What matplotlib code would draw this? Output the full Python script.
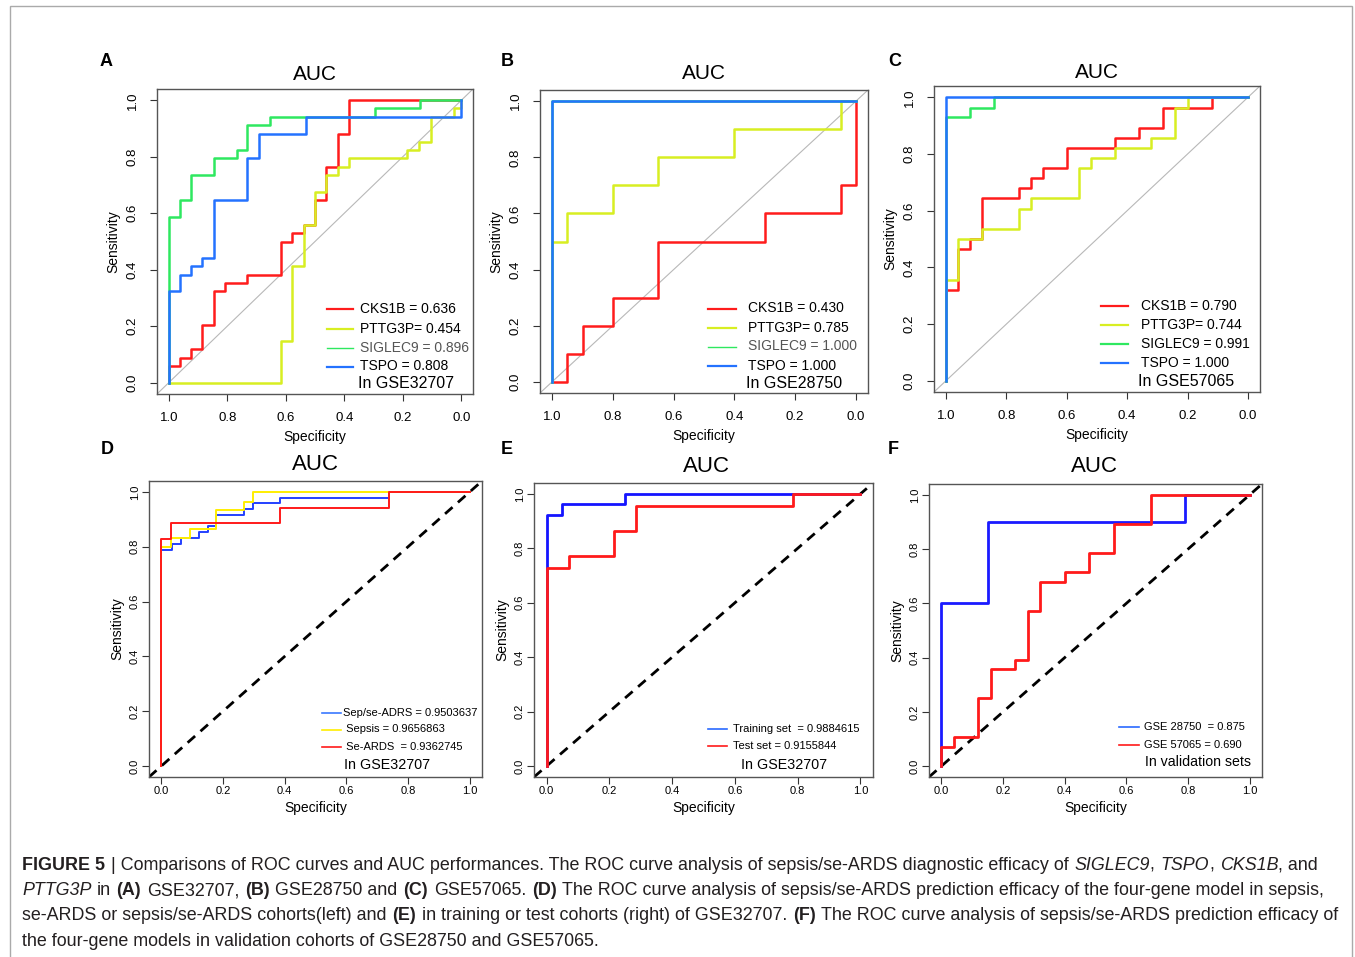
import re
import matplotlib
matplotlib.use('Agg')
import matplotlib.pyplot as plt
from matplotlib import font_manager
from matplotlib.lines import Line2D
from matplotlib.patches import Rectangle

W, H = 1355, 957

installed = {f.name for f in font_manager.fontManager.ttflist}
SANS = 'Liberation Sans' if 'Liberation Sans' in installed else 'DejaVu Sans'
NARROW = 'Liberation Sans Narrow' if 'Liberation Sans Narrow' in installed else SANS
plt.rcParams['font.family'] = [SANS, 'DejaVu Sans']

# ---- panel A : GSE32707 (specificity, sensitivity)
a_cks1b_spec = [1.0, 1.0, 0.962, 0.962, 0.923, 0.923, 0.885, 0.885, 0.846, 0.846, 0.808, 0.808, 0.731, 0.731,
                0.615, 0.615, 0.577, 0.577, 0.538, 0.538, 0.5, 0.5, 0.462, 0.462, 0.423, 0.423, 0.385, 0.385, 0.0]
a_cks1b_sens = [0.0, 0.059, 0.059, 0.088, 0.088, 0.118, 0.118, 0.206, 0.206, 0.324, 0.324, 0.353, 0.353, 0.382,
                0.382, 0.5, 0.5, 0.529, 0.529, 0.559, 0.559, 0.647, 0.647, 0.765, 0.765, 0.882, 0.882, 1.0, 1.0]
a_pttg3p_spec = [1.0, 0.615, 0.615, 0.577, 0.577, 0.538, 0.538, 0.5, 0.5, 0.462, 0.462, 0.423, 0.423, 0.385,
                 0.385, 0.185, 0.185, 0.145, 0.145, 0.105, 0.105, 0.025, 0.025, 0.0, 0.0]
a_pttg3p_sens = [0.0, 0.0, 0.147, 0.147, 0.412, 0.412, 0.559, 0.559, 0.676, 0.676, 0.735, 0.735, 0.765, 0.765,
                 0.794, 0.794, 0.824, 0.824, 0.853, 0.853, 0.941, 0.941, 0.971, 0.971, 1.0]
a_siglec9_spec = [1.0, 1.0, 0.962, 0.962, 0.923, 0.923, 0.846, 0.846, 0.765, 0.765, 0.731, 0.731, 0.654, 0.654,
                  0.296, 0.296, 0.142, 0.142, 0.0]
a_siglec9_sens = [0.0, 0.588, 0.588, 0.647, 0.647, 0.735, 0.735, 0.794, 0.794, 0.824, 0.824, 0.912, 0.912, 0.941,
                  0.941, 0.971, 0.971, 1.0, 1.0]
a_tspo_spec = [1.0, 1.0, 0.962, 0.962, 0.923, 0.923, 0.885, 0.885, 0.846, 0.846, 0.731, 0.731, 0.692, 0.692,
               0.532, 0.532, 0.0, 0.0]
a_tspo_sens = [0.0, 0.324, 0.324, 0.382, 0.382, 0.412, 0.412, 0.441, 0.441, 0.647, 0.647, 0.794, 0.794, 0.882,
               0.882, 0.941, 0.941, 1.0]
a_labels = ['CKS1B = 0.636', 'PTTG3P= 0.454', 'SIGLEC9 = 0.896', 'TSPO = 0.808']

# ---- panel B : GSE28750
b_cks1b_spec = [1.0, 0.95, 0.95, 0.9, 0.9, 0.8, 0.8, 0.65, 0.65, 0.3, 0.3, 0.05, 0.05, 0.0, 0.0]
b_cks1b_sens = [0.0, 0.0, 0.1, 0.1, 0.2, 0.2, 0.3, 0.3, 0.5, 0.5, 0.6, 0.6, 0.7, 0.7, 1.0]
b_pttg3p_spec = [1.0, 1.0, 0.95, 0.95, 0.8, 0.8, 0.65, 0.65, 0.4, 0.4, 0.05, 0.05, 0.0]
b_pttg3p_sens = [0.0, 0.5, 0.5, 0.6, 0.6, 0.7, 0.7, 0.8, 0.8, 0.9, 0.9, 1.0, 1.0]
b_siglec9_spec = [1.0, 1.0, 0.0]
b_siglec9_sens = [0.0, 1.0, 1.0]
b_tspo_spec = [1.0, 1.0, 0.0]
b_tspo_sens = [0.0, 1.0, 1.0]
b_labels = ['CKS1B = 0.430', 'PTTG3P= 0.785', 'SIGLEC9 = 1.000', 'TSPO = 1.000']

# ---- panel C : GSE57065
c_cks1b_spec = [1.0, 1.0, 0.96, 0.96, 0.92, 0.92, 0.88, 0.88, 0.76, 0.76, 0.72, 0.72, 0.68, 0.68, 0.6, 0.6,
                0.44, 0.44, 0.36, 0.36, 0.28, 0.28, 0.12, 0.12, 0.0]
c_cks1b_sens = [0.0, 0.321, 0.321, 0.464, 0.464, 0.5, 0.5, 0.643, 0.643, 0.679, 0.679, 0.714, 0.714, 0.75,
                0.75, 0.821, 0.821, 0.857, 0.857, 0.893, 0.893, 0.964, 0.964, 1.0, 1.0]
c_pttg3p_spec = [1.0, 1.0, 0.96, 0.96, 0.88, 0.88, 0.76, 0.76, 0.72, 0.72, 0.56, 0.56, 0.52, 0.52, 0.44, 0.44,
                 0.32, 0.32, 0.24, 0.24, 0.2, 0.2, 0.0]
c_pttg3p_sens = [0.0, 0.357, 0.357, 0.5, 0.5, 0.536, 0.536, 0.607, 0.607, 0.643, 0.643, 0.75, 0.75, 0.786,
                 0.786, 0.821, 0.821, 0.857, 0.857, 0.964, 0.964, 1.0, 1.0]
c_siglec9_spec = [1.0, 1.0, 0.92, 0.92, 0.84, 0.84, 0.0]
c_siglec9_sens = [0.0, 0.929, 0.929, 0.964, 0.964, 1.0, 1.0]
c_tspo_spec = [1.0, 1.0, 0.0]
c_tspo_sens = [0.0, 1.0, 1.0]
c_labels = ['CKS1B = 0.790', 'PTTG3P= 0.744', 'SIGLEC9 = 0.991', 'TSPO = 1.000']

# ---- panel D : four-gene model in GSE32707
d_all_x = [0.0, 0.0, 0.035, 0.035, 0.064, 0.064, 0.122, 0.122, 0.15, 0.15, 0.178, 0.178, 0.269, 0.269,
           0.297, 0.297, 0.385, 0.385, 0.739, 0.739, 1.0]
d_all_y = [0.0, 0.79, 0.79, 0.81, 0.81, 0.831, 0.831, 0.854, 0.854, 0.875, 0.875, 0.915, 0.915, 0.938,
           0.938, 0.96, 0.96, 0.978, 0.978, 1.0, 1.0]
d_sepsis_x = [0.0, 0.0, 0.032, 0.032, 0.092, 0.092, 0.178, 0.178, 0.269, 0.269, 0.297, 0.297, 1.0]
d_sepsis_y = [0.0, 0.8, 0.8, 0.831, 0.831, 0.865, 0.865, 0.933, 0.933, 0.965, 0.965, 1.0, 1.0]
d_ards_x = [0.0, 0.0, 0.03, 0.03, 0.385, 0.385, 0.737, 0.737, 1.0]
d_ards_y = [0.0, 0.83, 0.83, 0.885, 0.885, 0.942, 0.942, 1.0, 1.0]
d_labels = ['Sep/se-ADRS = 0.9503637', ' Sepsis = 0.9656863', ' Se-ARDS  = 0.9362745']

# ---- panel E : training / test
e_train_x = [0.0, 0.0, 0.048, 0.048, 0.25, 0.25, 1.0]
e_train_y = [0.0, 0.923, 0.923, 0.962, 0.962, 1.0, 1.0]
e_test_x = [0.0, 0.0, 0.071, 0.071, 0.214, 0.214, 0.286, 0.286, 0.786, 0.786, 1.0]
e_test_y = [0.0, 0.727, 0.727, 0.773, 0.773, 0.864, 0.864, 0.955, 0.955, 1.0, 1.0]
e_labels = ['Training set  = 0.9884615', 'Test set = 0.9155844']

# ---- panel F : validation sets
f_gse28750_x = [0.0, 0.0, 0.15, 0.15, 0.79, 0.79, 1.0]
f_gse28750_y = [0.0, 0.6, 0.6, 0.9, 0.9, 1.0, 1.0]
f_gse57065_x = [0.0, 0.0, 0.04, 0.04, 0.12, 0.12, 0.16, 0.16, 0.24, 0.24, 0.28, 0.28, 0.32, 0.32, 0.4, 0.4,
                0.48, 0.48, 0.56, 0.56, 0.68, 0.68, 1.0]
f_gse57065_y = [0.0, 0.071, 0.071, 0.107, 0.107, 0.25, 0.25, 0.357, 0.357, 0.393, 0.393, 0.571, 0.571, 0.679,
                0.679, 0.714, 0.714, 0.786, 0.786, 0.893, 0.893, 1.0, 1.0]
f_labels = ['GSE 28750  = 0.875', 'GSE 57065 = 0.690']

caption_lines = [
    '**FIGURE 5** | Comparisons of ROC curves and AUC performances. The ROC curve analysis of sepsis/se-ARDS '
    'diagnostic efficacy of *SIGLEC9*, *TSPO*, *CKS1B*, and',
    '*PTTG3P* in **(A)** GSE32707, **(B)** GSE28750 and **(C)** GSE57065. **(D)** The ROC curve analysis of '
    'sepsis/se-ARDS prediction efficacy of the four-gene model in sepsis,',
    'se-ARDS or sepsis/se-ARDS cohorts(left) and **(E)** in training or test cohorts (right) of GSE32707. '
    '**(F)** The ROC curve analysis of sepsis/se-ARDS prediction efficacy of',
    'the four-gene models in validation cohorts of GSE28750 and GSE57065.',
]

GENE_COLORS = ['#ff1c1c', '#d8ee22', '#2ee860', '#2472ff']

fig = plt.figure(figsize=(W / 100, H / 100), dpi=100)
fig.add_artist(Rectangle((10 / W, -0.02), 1342 / W, 1.02 - 6 / H, transform=fig.transFigure,
                         fill=False, edgecolor='#aaaaaa', linewidth=1.0))


def fx(x):
    return x / W


def fy(y):
    return 1 - y / H


def make_axes(box, reverse, small):
    l, t, r, b = box
    ax = fig.add_axes([l / W, 1 - b / H, (r - l) / W, (b - t) / H])
    if reverse:
        ax.set_xlim(1.04, -0.04)
    else:
        ax.set_xlim(-0.04, 1.04)
    ax.set_ylim(-0.04, 1.04)
    ticks = [0.0, 0.2, 0.4, 0.6, 0.8, 1.0]
    ax.set_xticks(ticks)
    ax.set_yticks(ticks)
    ax.set_xticklabels(['%.1f' % v for v in ticks])
    ax.set_yticklabels(['%.1f' % v for v in ticks], rotation=90, va='center')
    ax.tick_params(direction='out', length=5, width=0.8, color='#333333',
                   labelsize=8 if small else 9.5, pad=1.5 if small else 8)
    for s in ax.spines.values():
        s.set_color('#555555')
        s.set_linewidth(1.0)
    w, h = r - l, b - t
    off = 31 if small else 43
    ax.set_xlabel('Specificity', fontsize=10)
    ax.set_ylabel('Sensitivity', fontsize=10)
    ax.xaxis.set_label_coords(0.5, -off / h)
    ax.yaxis.set_label_coords(-(off + 1) / w, 0.5)
    ax.xaxis.label.set_va('center')
    ax.yaxis.label.set_va('center')
    return ax


def legend(lines, labels, x0, x1, tx, ys, fsize, family, note, nx, ny, nsize, text_colors=None):
    for i, (color, lab, y) in enumerate(zip(lines, labels, ys)):
        fig.add_artist(Line2D([fx(x0), fx(x1)], [fy(y), fy(y)], color=color[0], lw=color[1],
                              transform=fig.transFigure))
        tc = text_colors[i] if text_colors else 'black'
        fig.text(fx(tx), fy(y), lab, fontsize=fsize, family=[family, 'DejaVu Sans'],
                 ha='left', va='center', color=tc)
    fig.text(fx(nx), fy(ny), note, fontsize=nsize, ha='left', va='center')


# ---- top row: single-gene ROC curves
top = [
    ('A', (157, 89, 473, 394), 74, 100,
     [(a_cks1b_spec, a_cks1b_sens), (a_pttg3p_spec, a_pttg3p_sens), (a_siglec9_spec, a_siglec9_sens),
      (a_tspo_spec, a_tspo_sens)], a_labels, 'In GSE32707',
     (327, 353, 360, [309, 328.5, 347.5, 366.5], 358, 384)),
    ('B', (540, 90, 868, 393), 73.5, 501,
     [(b_cks1b_spec, b_cks1b_sens), (b_pttg3p_spec, b_pttg3p_sens), (b_siglec9_spec, b_siglec9_sens),
      (b_tspo_spec, b_tspo_sens)], b_labels, 'In GSE28750',
     (708, 736, 748, [308.5, 328, 346.5, 365.5], 746, 383)),
    ('C', (934, 86, 1260, 392), 72, 888,
     [(c_cks1b_spec, c_cks1b_sens), (c_pttg3p_spec, c_pttg3p_sens), (c_siglec9_spec, c_siglec9_sens),
      (c_tspo_spec, c_tspo_sens)], c_labels, 'In GSE57065',
     (1101, 1128, 1141, [305.5, 325, 344, 363], 1138, 381)),
]

for letter, box, ty, lx, curves, labels, note, lg in top:
    ax = make_axes(box, True, False)
    ax.axline((1.0, 0.0), (0.0, 1.0), color='#b8b8b8', lw=0.8, zorder=1)
    for (sx, sy), col in zip(curves, GENE_COLORS):
        ax.plot(sx, sy, color=col, lw=1.8, zorder=2)
    fig.text(fx((box[0] + box[2]) / 2), fy(ty), 'AUC', fontsize=15, ha='center', va='center')
    fig.text(fx(lx), fy(62), letter, fontsize=13, weight='bold', ha='left', va='center')
    x0, x1, tx, ys, nx, ny = lg
    thin = 1.0 if letter in 'AB' else 1.6
    styles = [(GENE_COLORS[0], 1.6), (GENE_COLORS[1], 1.6), (GENE_COLORS[2], thin), (GENE_COLORS[3], 1.6)]
    tcols = ['black', 'black', '#555555' if letter in 'AB' else 'black', 'black']
    legend(styles, labels, x0, x1, tx, ys, 10, SANS, note, nx, ny, 11.5, tcols)

# ---- bottom row: four-gene model ROC curves
narrow_size = 9.5 if NARROW != SANS else 8

axd = make_axes((149, 481, 482, 777), False, True)
axd.axline((0, 0), (1, 1), color='black', lw=2, ls=(0, (3.6, 2.6)), zorder=1)
axd.plot(d_all_x, d_all_y, color='#2440ff', lw=1.4, zorder=2)
axd.plot(d_sepsis_x, d_sepsis_y, color='#ffee00', lw=1.4, zorder=3)
axd.plot(d_ards_x, d_ards_y, color='#ff1a1a', lw=1.4, zorder=4)
fig.text(fx(315), fy(465), 'AUC', fontsize=16, ha='center', va='center')
fig.text(fx(101), fy(449), 'D', fontsize=13, weight='bold', ha='left', va='center')
legend([('#3a78ff', 1.2), ('#ffee00', 1.2), ('#ff1a1a', 1.2)], d_labels, 322, 341, 343,
       [712.5, 729.5, 746.5], narrow_size, NARROW, 'In GSE32707', 344, 765, 10.3)

axe = make_axes((534, 483, 873, 777), False, True)
axe.axline((0, 0), (1, 1), color='black', lw=2, ls=(0, (3.6, 2.6)), zorder=1)
axe.plot(e_train_x, e_train_y, color='#1414ff', lw=2.0, zorder=2)
axe.plot(e_test_x, e_test_y, color='#ff1a1a', lw=2.0, zorder=3)
fig.text(fx(706), fy(467), 'AUC', fontsize=16, ha='center', va='center')
fig.text(fx(501), fy(449), 'E', fontsize=13, weight='bold', ha='left', va='center')
legend([('#2a6aff', 1.2), ('#ff1a1a', 1.2)], e_labels, 708, 727, 733,
       [728.5, 746], narrow_size, NARROW, 'In GSE32707', 741, 765, 10.3)

axf = make_axes((929, 484, 1262, 777), False, True)
axf.axline((0, 0), (1, 1), color='black', lw=2, ls=(0, (3.6, 2.6)), zorder=1)
axf.plot(f_gse28750_x, f_gse28750_y, color='#1a1aff', lw=2.0, zorder=2)
axf.plot(f_gse57065_x, f_gse57065_y, color='#ff1a1a', lw=2.0, zorder=3)
fig.text(fx(1094), fy(467), 'AUC', fontsize=16, ha='center', va='center')
fig.text(fx(888), fy(449), 'F', fontsize=13, weight='bold', ha='left', va='center')
legend([('#2a6aff', 1.2), ('#ff1a1a', 1.2)], f_labels, 1119, 1139, 1144,
       [726.5, 744.5], narrow_size, NARROW, 'In validation sets', 1145, 762, 10.2)

# ---- caption, drawn as runs of normal / bold / italic text
renderer = fig.canvas.get_renderer()
CAP_FAMILY = [NARROW, 'DejaVu Sans']


def text_width(s, size, **kw):
    t = fig.text(0, 0, s, fontsize=size, family=CAP_FAMILY, **kw)
    w = t.get_window_extent(renderer).width
    t.remove()
    return w


def draw_line(line, x0, y, size):
    space = text_width('n n', size) - text_width('nn', size)
    texts = []
    x = x0
    for piece in re.split(r'(\*\*[^*]+\*\*|\*[^*]+\*)', line):
        if not piece:
            continue
        weight, style = 'normal', 'normal'
        if piece.startswith('**'):
            piece, weight = piece[2:-2], 'bold'
        elif piece.startswith('*'):
            piece, style = piece[1:-1], 'italic'
        lead = len(piece) - len(piece.lstrip(' '))
        trail = len(piece) - len(piece.rstrip(' '))
        core = piece.strip(' ')
        x += lead * space
        if core:
            t = fig.text(fx(x), fy(y), core, fontsize=size, weight=weight, style=style,
                         family=CAP_FAMILY, color='#231f20', ha='left', va='center')
            x += t.get_window_extent(renderer).width + (0.0 if style == 'italic' else 0.8)
            texts.append(t)
        x += trail * space
    return texts, x - x0


tmp, width = draw_line(caption_lines[2], 22, 916, 10)
for t in tmp:
    t.remove()
cap_size = 10 * 1318 / width
for line, y in zip(caption_lines, [865, 890.5, 916, 941.5]):
    draw_line(line, 22, y, cap_size)

fig.savefig('out.png', dpi=100)
